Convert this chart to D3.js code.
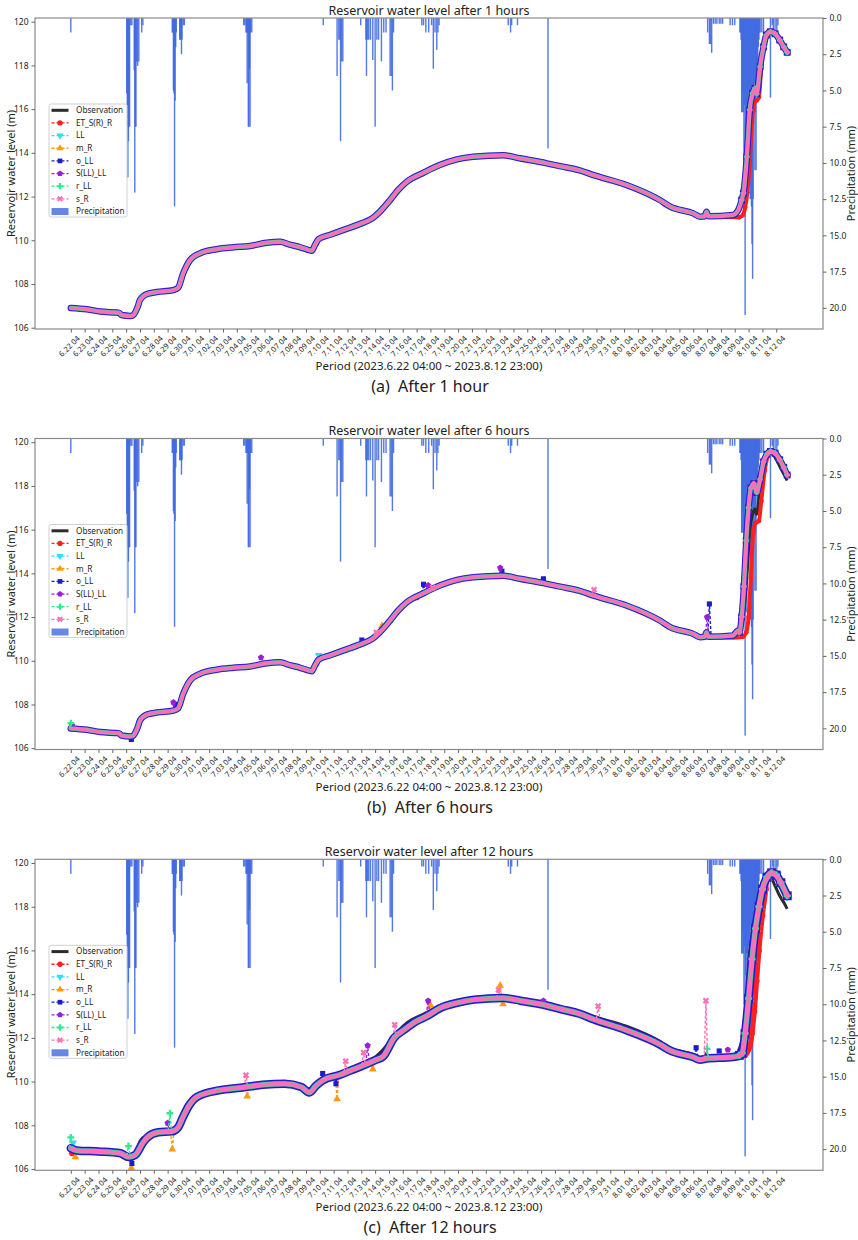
<!DOCTYPE html>
<html>
<head>
<meta charset="utf-8">
<script src="https://cdn.jsdelivr.net/npm/d3@7"></script>
<style>
  body { margin: 0; background: #fff; }
  svg text { font-family: "Noto Sans", "Open Sans", sans-serif; fill: #222; }
</style>
</head>
<body>
<svg id="chart" width="858" height="1240"></svg>
<script>
// ---- data ----
// x = hours since 2023.6.22 04:00
var tickLabels = ["6.22 04","6.23 04","6.24 04","6.25 04","6.26 04","6.27 04","6.28 04","6.29 04","6.30 04",
  "7.01 04","7.02 04","7.03 04","7.04 04","7.05 04","7.06 04","7.07 04","7.08 04","7.09 04","7.10 04",
  "7.11 04","7.12 04","7.13 04","7.14 04","7.15 04","7.16 04","7.17 04","7.18 04","7.19 04","7.20 04",
  "7.21 04","7.22 04","7.23 04","7.24 04","7.25 04","7.26 04","7.27 04","7.28 04","7.29 04","7.30 04",
  "7.31 04","8.01 04","8.02 04","8.03 04","8.04 04","8.05 04","8.06 04","8.07 04","8.08 04","8.09 04",
  "8.10 04","8.11 04","8.12 04"];
var lastHour = 1243;   // 8.12 23:00

var levelTicks = [106, 108, 110, 112, 114, 116, 118, 120];
var rainTicks = [0, 2.5, 5, 7.5, 10, 12.5, 15, 17.5, 20];

// observed reservoir level [hour, m]
var observed = [[0,106.90],[28,106.84],[51,106.74],[80,106.69],[84,106.68],[88,106.58],[103,106.54],
  [108,106.56],[112,106.72],[116,106.95],[120,107.27],[132,107.54],[149,107.63],[178,107.72],[186,107.82],
  [195,108.49],[207,109.10],[224,109.40],[253,109.59],[282,109.68],[311,109.74],[340,109.89],[363,109.93],
  [380,109.80],[398,109.68],[412,109.56],[418,109.52],[424,109.80],[430,110.05],[450,110.25],[476,110.50],
  [502,110.75],[523,111.00],[536,111.30],[554,111.84],[568,112.30],[583,112.68],[612,113.09],[640,113.44],
  [670,113.70],[698,113.82],[750,113.89],[779,113.75],[826,113.52],[849,113.39],[883,113.20],[907,112.98],
  [964,112.53],[1022,111.84],[1040,111.54],[1080,111.23],[1092,111.08],[1100,111.10],[1103,111.30],
  [1106,111.10],[1149,111.16],[1158,111.38],[1164,111.84],[1167,112.15],[1173,113.82],[1178,115.96],
  [1183,116.72],[1187,116.95],[1190,116.70],[1196,117.94],[1202,118.85],[1207,119.39],[1214,119.54],
  [1222,119.45],[1230,119.16],[1237,118.85],[1243,118.60]];
var observedTailB = [[1207,119.35],[1214,119.50],[1222,119.30],[1230,118.90],[1237,118.55],[1243,118.25]];
var observedTailC = [[1202,118.90],[1207,119.30],[1214,119.35],[1222,118.95],[1230,118.50],[1237,118.20],[1243,117.90]];

// hourly precipitation [hour, mm]
var rain = [[0,1.0],
  [97,5.2],[98,7.5],[99,11.0],[100,8.5],[101,7.5],[102,7.5],[104,0.5],[106,0.5],[110,3.6],[111,12.05],
  [112,7.5],[113,7.5],[114,3.0],[116,3.3],[118,3.0],[123,1.0],[125,0.5],
  [176,1.0],[177,1.0],[178,5.0],[179,5.2],[180,13.0],[181,5.7],[182,2.0],[183,1.0],[189,1.5],[190,1.5],
  [191,1.5],[192,2.5],[193,1.5],[195,0.5],[197,0.5],
  [300,0.5],[302,0.5],[304,1.0],[305,1.0],[306,4.5],[307,1.0],[308,7.5],[309,7.5],[310,3.5],[311,7.5],
  [312,1.0],[314,1.0],
  [438,0.5],[462,4.0],[465,1.5],[467,1.5],[468,8.5],[470,3.0],[472,3.0],[503,0.5],
  [512,1.5],[513,4.0],[515,1.5],[517,1.5],[520,1.5],[524,2.9],[528,7.5],[531,1.5],[534,1.5],[539,3.0],
  [543,1.0],[547,1.0],[554,4.0],[556,4.0],[558,5.0],[560,1.0],
  [609,0.5],[612,0.5],[616,1.0],[621,1.0],[626,0.5],[629,3.5],[632,1.0],[635,2.2],[637,1.0],[639,0.5],
  [759,0.5],[763,1.0],[765,0.5],[775,0.5],[828,9.0],
  [1105,1.0],[1108,1.8],[1110,1.8],[1112,2.4],[1115,0.4],[1118,0.4],[1121,0.4],[1125,0.4],[1128,0.4],
  [1131,0.4],[1144,0.5],[1148,0.5],[1152,0.5],
  [1161,1.0],[1162,1.0],[1163,1.5],[1164,6.5],[1165,6.5],[1166,5.0],[1167,6.5],[1168,10.0],[1169,6.0],
  [1170,20.5],[1171,8.0],[1172,6.5],[1173,12.0],[1174,6.5],[1175,7.8],[1176,6.0],[1177,5.0],[1178,6.5],
  [1179,12.5],[1180,9.0],[1181,13.0],[1182,15.6],[1183,18.0],[1184,12.5],[1185,6.5],[1186,5.0],
  [1187,10.5],[1188,6.5],[1189,10.5],[1190,4.0],[1191,3.0],[1192,4.5],[1193,2.0],[1194,1.5],[1195,1.0],
  [1196,1.0],[1199,1.0],[1202,1.0],[1214,5.5],[1217,0.5],[1219,1.0],[1222,1.0],[1225,1.0],[1227,0.5]];

var modelNames = ["ET_S(R)_R", "LL", "m_R", "o_LL", "S(LL)_LL", "r_LL", "s_R"];
var modelColors = ["#ff1f1f", "#2ee0f0", "#ff9a10", "#1c1cc8", "#9a1fd8", "#2eeb90", "#ff6fb5"];

// level predicted 12 h ahead (common band of the models in panel c)
var bandC = [[0,106.95],[10,106.85],[48,106.80],[86,106.72],[100,106.55],[112,106.65],[125,107.20],
  [133,107.45],[152,107.68],[175,107.72],[186,107.90],[195,108.40],[205,108.90],[219,109.30],[257,109.60],
  [295,109.72],[333,109.85],[371,109.90],[400,109.75],[414,109.50],[425,109.80],[437,110.05],[466,110.30],
  [485,110.50],[504,110.70],[530,111.00],[542,111.15],[561,112.00],[580,112.40],[599,112.75],[618,113.00],
  [640,113.35],[670,113.60],[700,113.75],[750,113.82],[780,113.70],[826,113.48],[850,113.32],[883,113.10],
  [907,112.85],[964,112.35],[1022,111.70],[1040,111.42],[1080,111.12],[1092,111.00],[1103,111.05],
  [1149,111.12],[1160,111.20],[1165,111.30],[1170,112.20],[1176,113.80],[1182,115.60],[1188,117.00],
  [1194,118.00],[1200,118.80],[1208,119.35],[1216,119.55],[1224,119.45],[1232,119.10],[1243,118.50]];

// parts where one or all models leave the common curve
var redTailA = [[1149,111.05],[1160,111.05],[1166,111.15],[1170,111.50],[1174,112.20],[1178,113.60],
  [1182,115.40],[1186,116.30],[1190,116.40],[1194,116.55],[1198,117.90]];
var leadTailB = [[1160,111.30],[1164,112.00],[1168,113.40],[1172,115.50],[1176,117.00],[1180,117.90],
  [1185,118.10],[1190,117.70],[1196,118.30],[1202,119.10],[1208,119.45],[1214,119.58],[1222,119.50],
  [1230,119.20],[1237,118.85],[1243,118.50]];
var redTailB = [[1149,111.05],[1166,111.10],[1172,111.30],[1176,112.00],[1180,113.80],[1184,115.80],
  [1188,116.30],[1194,116.40],[1198,117.30],[1204,118.70],[1210,119.40]];
var redTailC = [[1149,111.05],[1170,111.20],[1178,111.60],[1182,112.20],[1186,113.20],[1190,114.60],
  [1194,116.00],[1200,117.60],[1206,118.80]];

// single-hour spikes [model index, hour, level before/after, level at spike]
var spikesB = [[5,0,106.9,107.15],[4,2,106.9,107.05],[3,105,106.54,106.4],[4,178,107.72,108.1],
  [3,182,107.8,108.0],[4,330,109.85,110.15],[1,430,110.05,110.25],[3,505,110.78,110.95],
  [6,530,111.15,111.3],[2,540,111.35,111.6],[0,600,113.0,112.9],[3,612,113.09,113.5],[4,620,113.15,113.45],
  [6,628,113.2,113.35],[4,745,113.89,114.25],[3,748,113.89,114.1],[3,820,113.55,113.75],
  [6,908,112.98,113.25],[4,1104,111.1,112.0],[3,1108,111.1,112.6]];
var spikesC = [[5,0,106.95,107.45],[0,2,106.9,106.72],[1,4,106.9,107.2],[2,8,106.85,106.55],
  [5,100,106.6,107.05],[2,105,106.6,106.05],[3,106,106.6,106.25],[4,168,107.75,108.1],
  [5,172,107.75,108.55],[2,176,107.75,106.9],[6,304,109.72,110.29],[2,306,109.72,109.33],
  [3,437,110.05,110.37],[3,460,110.3,109.9],[2,462,110.3,109.2],[6,477,110.45,110.93],
  [6,508,110.75,111.33],[4,515,110.85,111.65],[2,524,110.95,110.56],[6,562,112.0,112.6],
  [4,620,113.05,113.7],[2,624,113.05,113.5],[6,742,113.82,114.2],[2,745,113.82,114.4],
  [2,750,113.82,113.55],[4,820,113.5,113.7],[6,915,112.9,113.45],[3,1085,111.15,111.55],
  [6,1102,111.05,113.7],[5,1104,111.05,111.5],[3,1125,111.1,111.4],[4,1140,111.15,111.45]];

var titles = ["Reservoir water level after 1 hours", "Reservoir water level after 6 hours",
  "Reservoir water level after 12 hours"];
var captions = ["(a)  After 1 hour", "(b)  After 6 hours", "(c)  After 12 hours"];

// ---- layout ----
var svg = d3.select("#chart");
var left = 35, right = 823, plotH = 311;
var panelTop = [18, 438.5, 859.3];
var pad = lastHour * 0.05;
var x = d3.scaleLinear().domain([-pad, lastHour + pad]).range([left, right]);

// replace part of a series by another read series
function merge(base, part) {
  if (!part || !part.length) return base;
  var h0 = part[0][0], h1 = part[part.length - 1][0];
  return base.filter(function(d) { return d[0] < h0 || d[0] > h1; })
    .concat(part).sort(function(a, b) { return a[0] - b[0]; });
}

var pentagon = {
  draw: function(ctx, size) {
    var r = Math.sqrt(size / 2.378);
    for (var i = 0; i < 5; i++) {
      var a = -Math.PI / 2 + i * 2 * Math.PI / 5;
      if (i === 0) ctx.moveTo(r * Math.cos(a), r * Math.sin(a));
      else ctx.lineTo(r * Math.cos(a), r * Math.sin(a));
    }
    ctx.closePath();
  }
};
var symbolTypes = [d3.symbolCircle, d3.symbolTriangle, d3.symbolTriangle, d3.symbolSquare,
  pentagon, d3.symbolCross, d3.symbolCross];
var symbolTurn = [0, 180, 0, 0, 0, 0, 45];

function marker(g, i, px, py, size) {
  g.append("path")
    .attr("d", d3.symbol(symbolTypes[i], size)())
    .attr("transform", "translate(" + px + "," + py + ") rotate(" + symbolTurn[i] + ")")
    .attr("fill", modelColors[i]);
}

var panels = [
  { obs: observed, base: observed, lead: [], red: redTailA, spikes: [],
    widths: [4, 5, 5, 6.5, 5, 4, 3.2] },
  { obs: merge(observed, observedTailB), base: observed, lead: leadTailB, red: redTailB, spikes: spikesB,
    widths: [4, 5, 5, 6.5, 5, 4, 3.2] },
  { obs: merge(observed, observedTailC), base: bandC, lead: [], red: redTailC, spikes: spikesC,
    widths: [5, 6.5, 7, 8.5, 6, 5, 3.8] }
];

panels.forEach(function(p, k) {
  var top = panelTop[k], bottom = top + plotH;
  var g = svg.append("g");
  var yL = d3.scaleLinear().domain([105.94, 120.17]).range([bottom, top]);
  var yR = d3.scaleLinear().domain([0, 21.46]).range([top, bottom]);

  // precipitation bars, hanging from the top
  g.append("g").selectAll("rect").data(rain).enter().append("rect")
    .attr("x", function(d) { return x(d[0]) - 0.7; })
    .attr("y", top)
    .attr("width", 1.4)
    .attr("height", function(d) { return yR(d[1]) - top; })
    .attr("fill", "#4169e1")
    .attr("opacity", 0.9);

  var line = d3.line()
    .x(function(d) { return x(d[0]); })
    .y(function(d) { return yL(d[1]); })
    .curve(d3.curveMonotoneX);

  // observation
  g.append("path").attr("d", line(p.obs))
    .attr("fill", "none").attr("stroke", "#2b2b2b").attr("stroke-width", 3)
    .attr("stroke-linejoin", "round");

  // models: dense hourly markers read as a thick band
  modelNames.forEach(function(name, i) {
    var s = merge(p.base, p.lead);
    if (i === 0) s = merge(p.base, p.red);
    var w = p.widths[i];
    g.append("path").attr("d", line(s))
      .attr("fill", "none").attr("stroke", modelColors[i]).attr("stroke-width", w)
      .attr("stroke-linejoin", "round").attr("stroke-linecap", "round");
    s.forEach(function(d) {
      if (d[0] >= 1160) marker(g, i, x(d[0]), yL(d[1]), w * w * 1.1);
    });
    p.spikes.filter(function(sp) { return sp[0] === i; }).forEach(function(sp) {
      var pts = [[sp[1] - 3, sp[2]], [sp[1], sp[3]], [sp[1] + 3, sp[2]]];
      g.append("path").attr("d", d3.line().x(function(d) { return x(d[0]); })
          .y(function(d) { return yL(d[1]); })(pts))
        .attr("fill", "none").attr("stroke", modelColors[i]).attr("stroke-width", 1.4)
        .attr("stroke-dasharray", "3,2");
      marker(g, i, x(sp[1]), yL(sp[3]), 26);
    });
  });

  // spines
  g.append("rect").attr("x", left).attr("y", top).attr("width", right - left).attr("height", plotH)
    .attr("fill", "none").attr("stroke", "#8a8a8a").attr("stroke-width", 1.2);

  // axes
  var axL = g.append("g").attr("transform", "translate(" + left + ",0)")
    .call(d3.axisLeft(yL).tickValues(levelTicks).tickSize(3.5).tickPadding(3));
  var axR = g.append("g").attr("transform", "translate(" + right + ",0)")
    .call(d3.axisRight(yR).tickValues(rainTicks).tickFormat(d3.format(".1f")).tickSize(3.5).tickPadding(3));
  var axB = g.append("g").attr("transform", "translate(0," + bottom + ")")
    .call(d3.axisBottom(x).tickValues(tickLabels.map(function(d, i) { return i * 24; }))
      .tickFormat(function(d, i) { return tickLabels[i]; }).tickSize(3.5));
  [axL, axR, axB].forEach(function(a) {
    a.select(".domain").remove();
    a.selectAll(".tick line").attr("stroke", "#666");
    a.selectAll("text").attr("font-size", 8.5).attr("fill", "#333")
      .attr("font-family", "'Noto Sans', 'Open Sans', sans-serif");
  });
  axB.selectAll("text").attr("font-size", 7.6).attr("y", 0).attr("x", 0).attr("dy", null)
    .attr("text-anchor", "end").attr("transform", "translate(9,10) rotate(-45)");

  // labels
  g.append("text").attr("x", (left + right) / 2).attr("y", top - 3.5).attr("text-anchor", "middle")
    .attr("font-size", 12.5).text(titles[k]);
  g.append("text").attr("transform", "translate(15," + (top + plotH / 2) + ") rotate(-90)")
    .attr("text-anchor", "middle").attr("font-size", 11).text("Reservoir water level (m)");
  g.append("text").attr("transform", "translate(855," + (top + plotH / 2) + ") rotate(-90)")
    .attr("text-anchor", "middle").attr("font-size", 11).text("Precipitation (mm)");
  g.append("text").attr("x", (left + right) / 2).attr("y", bottom + 41).attr("text-anchor", "middle")
    .attr("font-size", 11.5).text("Period (2023.6.22 04:00 ~ 2023.8.12 23:00)");
  g.append("text").attr("x", 430).attr("y", bottom + 63).attr("text-anchor", "middle")
    .attr("font-size", 16).style("white-space", "pre").text(captions[k]);

  // legend
  var lg = g.append("g").attr("transform", "translate(49," + (top + 86) + ")");
  lg.append("rect").attr("width", 78).attr("height", 113).attr("rx", 2)
    .attr("fill", "#fff").attr("fill-opacity", 0.85).attr("stroke", "#d0d0d0");
  var names = ["Observation"].concat(modelNames).concat(["Precipitation"]);
  names.forEach(function(name, j) {
    var yy = 6.3 + j * 12.65;
    if (j === 0) {
      lg.append("line").attr("x1", 2.5).attr("x2", 19.5).attr("y1", yy).attr("y2", yy)
        .attr("stroke", "#2b2b2b").attr("stroke-width", 3);
    } else if (j === names.length - 1) {
      lg.append("rect").attr("x", 2.5).attr("y", yy - 3.5).attr("width", 17).attr("height", 7)
        .attr("fill", "#4169e1").attr("opacity", 0.8);
    } else {
      lg.append("line").attr("x1", 2.5).attr("x2", 19.5).attr("y1", yy).attr("y2", yy)
        .attr("stroke", modelColors[j - 1]).attr("stroke-width", 1.3).attr("stroke-dasharray", "3,2");
      marker(lg, j - 1, 11, yy, 22);
    }
    lg.append("text").attr("x", 27).attr("y", yy).attr("dy", "0.35em")
      .attr("font-size", 8.2).text(name);
  });
});
</script>
</body>
</html>
